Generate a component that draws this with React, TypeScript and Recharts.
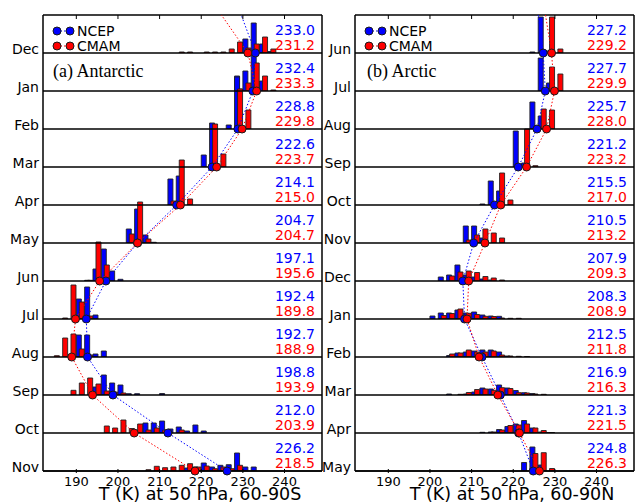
import React from "react";
import {
  Bar,
  BarChart,
  CartesianGrid,
  ComposedChart,
  Scatter,
  XAxis,
  YAxis,
} from "recharts";

const ANT_MONTHS = ["Dec", "Jan", "Feb", "Mar", "Apr", "May", "Jun", "Jul", "Aug", "Sep", "Oct", "Nov"];
const ARC_MONTHS = ["Jun", "Jul", "Aug", "Sep", "Oct", "Nov", "Dec", "Jan", "Feb", "Mar", "Apr", "May"];

const X_TICKS = [190, 200, 210, 220, 230, 240];
const ROW_TICKS = [0, 1, 2, 3, 4, 5, 6, 7, 8, 9, 10, 11, 12];

const ANT_NCEP_MEAN = [233.0, 232.4, 228.8, 222.6, 214.1, 204.7, 197.1, 192.4, 192.7, 198.8, 212.0, 226.2];
const ANT_CMAM_MEAN = [231.2, 233.3, 229.8, 223.7, 215.0, 204.7, 195.6, 189.8, 188.9, 193.9, 203.9, 218.5];
const ARC_NCEP_MEAN = [227.2, 227.7, 225.7, 221.2, 215.5, 210.5, 207.9, 208.3, 212.5, 216.9, 221.3, 224.8];
const ARC_CMAM_MEAN = [229.2, 229.9, 228.0, 223.2, 217.0, 213.2, 209.3, 208.9, 211.8, 216.3, 221.5, 226.3];

// histograms: one list per month row, [bin centre (K), % of days]
const ANT_NCEP_HIST = [
  [[231, 14], [233, 30], [235, 9], [237, 1.5]],
  [[229, 15], [231, 20], [233, 36], [235, 10]],
  [[227, 4], [229, 52]],
  [[221, 12], [223, 44]],
  [[213, 26], [215, 29]],
  [[203, 14], [205, 34], [207, 8], [209, 0.7]],
  [[193, 0.7], [195, 12], [197, 32], [199, 10], [201, 1.7]],
  [[191, 20], [193, 32], [195, 4]],
  [[191, 22], [193, 22], [195, 3], [197, 6]],
  [[195, 8], [197, 20], [199, 12], [201, 10], [203, 1.3], [205, 1.3], [211, 1.5]],
  [[207, 10], [209, 10], [211, 12], [213, 4], [215, 6], [217, 2], [219, 8], [221, 2]],
  [[217, 3], [219, 4], [221, 8], [223, 4], [225, 5.7], [227, 6.3], [229, 18], [231, 4], [233, 4]],
];
const ANT_CMAM_HIST = [
  [[215, 1], [217, 1], [221, 1], [223, 1], [225, 1], [227, 4], [229, 11], [231, 5], [233, 9], [235, 16], [237, 4]],
  [[229, 2], [231, 8], [233, 28], [235, 15], [237, 1]],
  [[229, 40], [231, 19]],
  [[223, 43], [225, 13]],
  [[213, 4], [215, 45], [217, 6]],
  [[203, 9], [205, 41], [207, 4]],
  [[193, 0.7], [195, 39], [197, 16]],
  [[187, 1], [189, 34], [191, 17], [193, 3]],
  [[185, 1.3], [187, 19], [189, 23], [191, 8], [193, 2]],
  [[189, 4.7], [191, 12], [193, 17], [195, 11], [197, 4], [199, 3], [201, 2]],
  [[197, 7], [199, 5], [201, 13], [203, 4.5], [205, 9], [207, 3], [209, 5], [211, 3], [215, 3]],
  [[207, 1.3], [209, 4.7], [211, 3.3], [213, 4], [215, 5.7], [217, 7.3], [219, 4], [221, 5], [223, 2.3], [225, 4], [227, 2.3], [229, 5.7]],
];
const ARC_NCEP_HIST = [
  [[225, 1], [227, 36], [229, 2]],
  [[227, 33], [229, 8]],
  [[225, 27], [227, 13]],
  [[221, 36], [223, 4]],
  [[213, 1], [215, 24], [217, 14]],
  [[209, 17], [211, 17], [213, 5]],
  [[203, 4], [205, 6], [207, 16], [209, 6], [211, 4], [213, 2], [215, 1]],
  [[201, 3], [203, 6], [205, 6], [207, 9], [209, 6], [211, 7], [213, 4], [215, 3], [217, 2.7]],
  [[205, 1.5], [207, 4], [209, 5], [211, 6], [213, 7], [215, 7], [217, 5], [219, 1]],
  [[205, 1], [209, 1], [211, 3], [213, 7], [215, 6], [217, 10], [219, 7], [221, 4.5], [223, 2.3], [225, 1.5]],
  [[213, 0.7], [215, 1], [217, 3.5], [219, 6.5], [221, 9], [223, 12.5], [225, 5], [227, 1], [229, 0.5]],
  [[223, 8.5], [225, 24], [227, 6]],
];
const ARC_CMAM_HIST = [
  [[229, 36], [231, 4]],
  [[229, 24], [231, 17]],
  [[227, 20], [229, 19]],
  [[223, 38], [225, 1.3]],
  [[215, 1.5], [217, 32], [219, 5]],
  [[209, 3], [211, 8], [213, 14], [215, 10], [217, 5]],
  [[205, 5], [207, 9], [209, 10], [211, 8.5], [213, 4.5], [215, 3], [217, 1]],
  [[203, 3.5], [205, 5.5], [207, 10], [209, 5.7], [211, 4.5], [213, 2.7], [215, 2.5], [217, 1], [219, 0.7], [221, 0.7]],
  [[205, 3], [207, 4], [209, 7], [211, 5], [213, 5], [215, 6], [217, 2], [219, 1], [221, 0.7], [223, 0.5]],
  [[207, 0.7], [209, 2.5], [211, 5.5], [213, 6], [215, 4.7], [217, 7.3], [219, 6.5], [221, 2.3], [223, 2], [225, 1], [227, 0.7]],
  [[215, 1], [217, 3], [219, 7.5], [221, 8], [223, 9], [225, 5], [227, 2.5], [229, 0.5]],
  [[225, 17.5], [227, 18.3], [229, 2.5]],
];

const X_DOMAIN: [number, number] = [182, 249];
const PANEL_W = 279;
const ROW_H = 38;
const TOP = 15;
const BAR_SPACE = 60; // row chart height, 1 % = 1 px
const FONT = "DejaVu Sans";

function rowData(ncep: number[][], cmam: number[][]) {
  const byBin = new Map<number, { t: number; ncep?: number; cmam?: number }>();
  ncep.forEach(([t, v]) => byBin.set(t, { ...(byBin.get(t) ?? { t }), ncep: v }));
  cmam.forEach(([t, v]) => byBin.set(t, { ...(byBin.get(t) ?? { t }), cmam: v }));
  return [...byBin.values()].sort((a, b) => a.t - b.t);
}

function XTick({ x, y, payload }: any) {
  return (
    <g>
      <line x1={x} x2={x} y1={y} y2={y - 4} stroke="#000" />
      <line x1={x} x2={x} y1={TOP} y2={TOP + 4} stroke="#000" />
      <text x={x} y={y + 8} textAnchor="middle" dominantBaseline="central" fontFamily={FONT} fontSize={13} fill="#000">
        {payload.value}
      </text>
    </g>
  );
}

function Panel({ x0, months, ncepHist, cmamHist, ncepMean, cmamMean }: any) {
  const markers = (means: number[]) => means.map((t, i) => ({ t, y: i + 1 }));
  // the previous-year value sits above the top row, so the line runs off the frame
  const trail = (means: number[]) => [{ t: means[means.length - 1], y: -1 }, ...markers(means)];

  return (
    <>
      {months.map((_: string, i: number) => (
        <div key={i} style={{ position: "absolute", left: x0, top: TOP + ROW_H * (i + 1) - BAR_SPACE }}>
          <BarChart
            width={PANEL_W}
            height={BAR_SPACE}
            data={rowData(ncepHist[i], cmamHist[i])}
            margin={{ top: 0, right: 0, bottom: 0, left: 0 }}
            barGap={-2}
          >
            <XAxis type="number" dataKey="t" domain={X_DOMAIN} hide />
            <YAxis type="number" domain={[0, BAR_SPACE]} hide />
            <Bar dataKey="ncep" fill="#0000ff" stroke="#222" strokeWidth={0.9} barSize={5} isAnimationActive={false} />
            <Bar dataKey="cmam" fill="#ff0000" stroke="#222" strokeWidth={0.9} barSize={5} isAnimationActive={false} />
          </BarChart>
        </div>
      ))}
      <div style={{ position: "absolute", left: x0 - 40, top: 0 }}>
        <ComposedChart width={40 + PANEL_W + 1} height={504} margin={{ top: TOP, right: 0, bottom: 0, left: 0 }}>
          <CartesianGrid vertical={false} stroke="#000" strokeWidth={1.5} />
          <XAxis
            type="number"
            dataKey="t"
            domain={X_DOMAIN}
            ticks={X_TICKS}
            interval={0}
            height={33}
            tickSize={0}
            tickLine={false}
            tick={XTick}
            axisLine={{ stroke: "#000", strokeWidth: 1.5 }}
          />
          <YAxis
            type="number"
            dataKey="y"
            domain={[0, 12]}
            reversed
            allowDataOverflow
            ticks={ROW_TICKS}
            interval={0}
            width={40}
            tickSize={0}
            tickLine={false}
            axisLine={{ stroke: "#000", strokeWidth: 1.5 }}
            tick={({ x, y, payload }: any) =>
              payload.value >= 1 ? (
                <text x={x - 2} y={y - 4.5} textAnchor="end" dominantBaseline="central" fontFamily={FONT} fontSize={14} fill="#000">
                  {months[payload.value - 1]}
                </text>
              ) : (
                <g />
              )
            }
          />
          <YAxis yAxisId="m" type="number" dataKey="y" domain={[0, 12]} reversed hide />
          <YAxis
            yAxisId="frame"
            orientation="right"
            type="number"
            domain={[0, 12]}
            width={1}
            tick={false}
            tickLine={false}
            axisLine={{ stroke: "#000", strokeWidth: 1.5 }}
          />
          <Scatter
            data={trail(ncepMean)}
            fill="#0000ff"
            line={{ stroke: "#0000ff", strokeWidth: 1, strokeDasharray: "1.5 2" }}
            shape={() => <g />}
            isAnimationActive={false}
          />
          <Scatter
            data={trail(cmamMean)}
            fill="#ff0000"
            line={{ stroke: "#ff0000", strokeWidth: 1, strokeDasharray: "1.5 2" }}
            shape={() => <g />}
            isAnimationActive={false}
          />
          <Scatter
            yAxisId="m"
            data={markers(ncepMean)}
            shape={(p: any) => <circle cx={p.cx} cy={p.cy} r={4} fill="#0000ff" stroke="#1a1a1a" strokeWidth={1} />}
            isAnimationActive={false}
          />
          <Scatter
            yAxisId="m"
            data={markers(cmamMean)}
            shape={(p: any) => <circle cx={p.cx} cy={p.cy} r={4} fill="#ff0000" stroke="#1a1a1a" strokeWidth={1} />}
            isAnimationActive={false}
          />
        </ComposedChart>
      </div>
    </>
  );
}

function Notes({ x0, title, titleDx, xlabel, ncepMean, cmamMean }: any) {
  return (
    <g fontFamily={FONT}>
      {ncepMean.map((v: number, i: number) => (
        <g key={i}>
          <text x={x0 + 272} y={TOP + ROW_H * i + 14.5} textAnchor="end" dominantBaseline="central" fontSize={14} fill="#0000ff">
            {v.toFixed(1)}
          </text>
          <text x={x0 + 272} y={TOP + ROW_H * i + 29.5} textAnchor="end" dominantBaseline="central" fontSize={14} fill="#ff0000">
            {cmamMean[i].toFixed(1)}
          </text>
        </g>
      ))}
      {[
        { name: "NCEP", color: "#0000ff", y: 31 },
        { name: "CMAM", color: "#ff0000", y: 46 },
      ].map((s) => (
        <g key={s.name}>
          <line x1={x0 + 14} x2={x0 + 27} y1={s.y} y2={s.y} stroke={s.color} strokeDasharray="1.5 2" />
          <circle cx={x0 + 14} cy={s.y} r={4} fill={s.color} stroke="#1a1a1a" />
          <circle cx={x0 + 27} cy={s.y} r={4} fill={s.color} stroke="#1a1a1a" />
          <text x={x0 + 34} y={s.y} dominantBaseline="central" fontSize={14} fill="#000">
            {s.name}
          </text>
        </g>
      ))}
      <text x={x0 + titleDx} y={71} dominantBaseline="central" fontFamily="Liberation Serif" fontSize={18} fill="#000">
        {title}
      </text>
      <text x={x0 + 157} y={494} textAnchor="middle" dominantBaseline="central" fontSize={17.5} fill="#000">
        {xlabel}
      </text>
    </g>
  );
}

export default function App() {
  return (
    <div style={{ position: "relative", width: 635, height: 504, background: "#fff", overflow: "hidden" }}>
      <style>{"body{margin:0}"}</style>
      <Panel
        x0={43}
        months={ANT_MONTHS}
        ncepHist={ANT_NCEP_HIST}
        cmamHist={ANT_CMAM_HIST}
        ncepMean={ANT_NCEP_MEAN}
        cmamMean={ANT_CMAM_MEAN}
      />
      <Panel
        x0={355}
        months={ARC_MONTHS}
        ncepHist={ARC_NCEP_HIST}
        cmamHist={ARC_CMAM_HIST}
        ncepMean={ARC_NCEP_MEAN}
        cmamMean={ARC_CMAM_MEAN}
      />
      <svg width={635} height={504} style={{ position: "absolute", left: 0, top: 0, pointerEvents: "none" }}>
        <Notes
          x0={43}
          title="(a) Antarctic"
          titleDx={10}
          xlabel="T (K) at 50 hPa, 60-90S"
          ncepMean={ANT_NCEP_MEAN}
          cmamMean={ANT_CMAM_MEAN}
        />
        <Notes
          x0={355}
          title="(b) Arctic"
          titleDx={12}
          xlabel="T (K) at 50 hPa, 60-90N"
          ncepMean={ARC_NCEP_MEAN}
          cmamMean={ARC_CMAM_MEAN}
        />
      </svg>
    </div>
  );
}
